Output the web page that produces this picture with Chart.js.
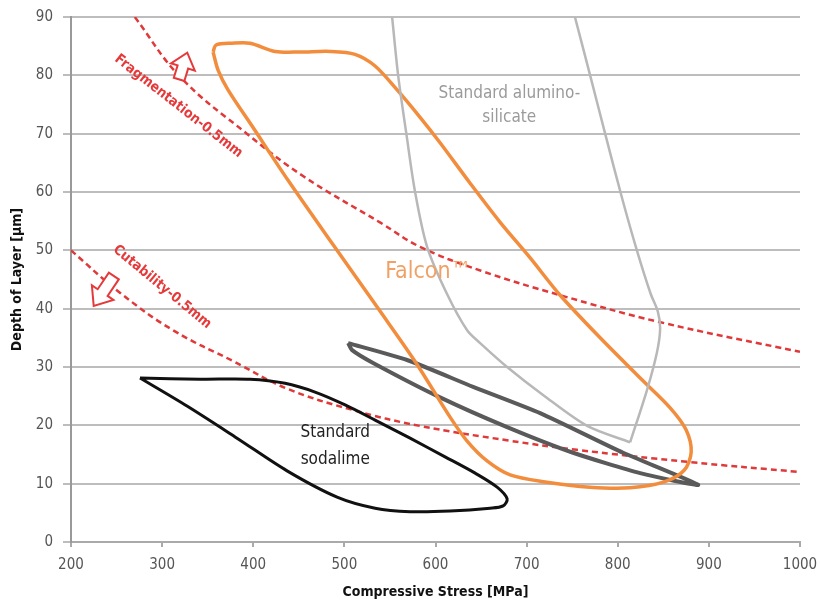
<!DOCTYPE html>
<html>
<head>
<meta charset="utf-8">
<script src="https://cdn.jsdelivr.net/npm/chart.js@4/dist/chart.umd.min.js"></script>
<style>
  html, body { margin: 0; background: #fff; }
  #chart { width: 820px; height: 604px; }
</style>
</head>
<body>
<div id="chart"><canvas id="c"></canvas></div>
<script>
// axis ticks
const xTicks = [200, 300, 400, 500, 600, 700, 800, 900, 1000]
const yTicks = [0, 10, 20, 30, 40, 50, 60, 70, 80, 90]

// limit curves (red dashed)
const fragX = [270, 320, 393, 455, 540, 583, 650, 737, 846, 1000]
const fragY = [90, 79.7, 70, 62.7, 54.7, 50.6, 46.5, 42.3, 37.7, 32.6]
const cutX = [200, 254, 312, 378, 437, 510, 583, 680, 755, 879, 1000]
const cutY = [50, 42.7, 36.3, 31.0, 26.3, 22.6, 19.9, 17.4, 15.8, 13.7, 12]

// Falcon region (closed loop)
const falconX = [355.9, 359.2, 376.7, 396.5, 423.9, 451.4, 484.3, 511.7, 533.7, 557.9, 583.1, 605.2, 638, 671, 703.9, 736.8, 780.7, 824.6, 857.5, 875.1, 880.6, 872.9, 851, 813.6, 769.7, 720.3, 681.9, 656.6, 634.7, 616, 578.7, 538.1, 486.5, 438.2, 398.7, 372.3, 361.4, 355.9]
const falconY = [84.0, 85.2, 85.5, 85.5, 84.1, 84.0, 84.1, 83.6, 81.6, 77.5, 72.8, 68.4, 61.5, 54.8, 48.7, 42.3, 35.0, 28.1, 23.0, 19.2, 15.4, 12.3, 10.3, 9.3, 9.4, 10.3, 11.5, 13.9, 17.3, 21.4, 30.7, 39.8, 51.2, 62.0, 71.3, 77.5, 80.9, 84.0]

// standard alumino-silicate (open at the top)
const aluLeftX = [552.4, 559, 568, 577.6, 590.8, 612.4, 634.7, 649, 678.6, 718, 766.4, 813.6]
const aluLeftY = [90, 80, 70, 60, 50.6, 42.6, 36.3, 34.1, 30, 25.2, 19.9, 17.1]
const aluRightX = [813.6, 832, 843, 846.5, 844, 836, 821, 805, 787, 769.7, 753]
const aluRightY = [17.1, 26, 32.5, 36.5, 39.5, 42.6, 50, 58.8, 69.5, 80, 90]

// dark grey elongated loop
const darkX = [504.1, 568.8, 641.3, 714.8, 805.9, 888.3, 824.6, 751, 678.6, 605, 531.5, 508.5, 504.1]
const darkY = [34.1, 31.2, 26.6, 22.1, 15.3, 9.8, 11.8, 15.3, 19.7, 24.8, 30.7, 32.9, 34.1]

// standard sodalime (closed loop)
const sodaX = [275.7, 341.6, 396.5, 434.9, 467.8, 500.8, 533.7, 572.1, 610.5, 643.5, 667.6, 678.6, 674.2, 659.9, 616, 572.1, 533.7, 492, 437.1, 382.2, 327.3, 275.7]
const sodaY = [28.1, 27.9, 27.9, 27.2, 25.7, 23.5, 20.9, 17.8, 14.6, 11.8, 9.4, 7.4, 6.2, 5.8, 5.3, 5.2, 5.8, 7.7, 12.2, 17.8, 23.3, 28.1]

const pts = (xs, ys) => xs.map((x, i) => ({ x: x, y: ys[i] }))

const FONT = '"DejaVu Sans Condensed", "Liberation Sans", sans-serif'

const notes = [
  { text: 'Standard alumino-', x: 681, y: 76.9, color: '#9b9b9b', font: '17px ' + FONT, rot: 0 },
  { text: 'silicate', x: 681, y: 72.8, color: '#9b9b9b', font: '17px ' + FONT, rot: 0 },
  { text: 'Falcon\u2122', x: 592, y: 46.3, color: '#f0a266', font: '23px ' + FONT, rot: 0 },
  { text: 'Standard', x: 490, y: 18.7, color: '#222', font: '17px ' + FONT, rot: 0 },
  { text: 'sodalime', x: 490, y: 14.1, color: '#222', font: '17px ' + FONT, rot: 0 },
  { text: 'Fragmentation-0.5mm', x: 318, y: 74.7, color: '#e5393a', font: 'bold 14px ' + FONT, rot: 38 },
  { text: 'Cutability-0.5mm', x: 300, y: 43.7, color: '#e5393a', font: 'bold 14px ' + FONT, rot: 39.5 }
]
const arrows = [
  { x: 318.6, y: 79.3, angle: -73, len: 28, head: 15, hw: 12.5, sw: 5.5 },
  { x: 247, y: 45.6, angle: 124, len: 36, head: 16, hw: 13, sw: 6 }
]

const notesPlugin = {
  id: 'notes',
  afterDatasetsDraw(chart) {
    const { ctx, scales } = chart
    ctx.save()
    arrows.forEach(a => {
      const px = scales.x.getPixelForValue(a.x)
      const py = scales.y.getPixelForValue(a.y)
      const b = a.len - a.head
      ctx.save()
      ctx.translate(px, py)
      ctx.rotate(a.angle * Math.PI / 180)
      ctx.beginPath()
      ctx.moveTo(0, -a.sw)
      ctx.lineTo(b, -a.sw)
      ctx.lineTo(b, -a.hw)
      ctx.lineTo(a.len, 0)
      ctx.lineTo(b, a.hw)
      ctx.lineTo(b, a.sw)
      ctx.lineTo(0, a.sw)
      ctx.closePath()
      ctx.fillStyle = '#fff'
      ctx.fill()
      ctx.strokeStyle = '#e5393a'
      ctx.lineWidth = 2
      ctx.lineJoin = 'miter'
      ctx.stroke()
      ctx.restore()
    })
    notes.forEach(n => {
      const px = scales.x.getPixelForValue(n.x)
      const py = scales.y.getPixelForValue(n.y)
      ctx.save()
      ctx.translate(px, py)
      ctx.rotate(n.rot * Math.PI / 180)
      ctx.font = n.font
      ctx.fillStyle = n.color
      ctx.textAlign = 'center'
      ctx.textBaseline = 'middle'
      ctx.fillText(n.text, 0, 0)
      ctx.restore()
    })
    ctx.restore()
  }
}

const line = (data, color, width, extra) => Object.assign({
  data: data,
  showLine: true,
  borderColor: color,
  borderWidth: width,
  pointRadius: 0,
  tension: 0.4,
  fill: false
}, extra || {})

const chart = new Chart(document.getElementById('c'), {
  type: 'scatter',
  data: {
    datasets: [
      line(pts(aluLeftX, aluLeftY), '#b8b8b8', 2.5, { tension: 0.3 }),
      line(pts(aluRightX, aluRightY), '#b8b8b8', 2.5, { tension: 0.3 }),
      line(pts(falconX, falconY), '#f28d3e', 3.5, { tension: 0.3 }),
      line(pts(sodaX, sodaY), '#111', 3, { tension: 0.3 }),
      line(pts(darkX, darkY), '#5a5a5a', 4, { tension: 0.2 }),
      line(pts(fragX, fragY), '#e0393a', 2.5, { borderDash: [6, 4] }),
      line(pts(cutX, cutY), '#e0393a', 2.5, { borderDash: [6, 4] })
    ]
  },
  options: {
    responsive: true,
    maintainAspectRatio: false,
    animation: false,
    layout: { padding: { left: 0, top: 17, right: 20, bottom: 0 } },
    plugins: {
      legend: { display: false },
      tooltip: { enabled: false }
    },
    scales: {
      x: {
        type: 'linear',
        min: 200,
        max: 1000,
        afterBuildTicks: s => { s.ticks = xTicks.map(v => ({ value: v })) },
        afterFit: s => { s.height = 62; s.paddingLeft = 0; s.paddingRight = 0 },
        grid: { display: true, drawOnChartArea: false, drawTicks: true, tickLength: 5, color: '#aaa', lineWidth: 2 },
        border: { display: true, color: '#aaa', width: 2 },
        ticks: { color: '#555', font: { family: FONT, size: 15 }, padding: 9, maxRotation: 0, callback: v => String(v) },
        title: { display: true, text: 'Compressive Stress [MPa]', color: '#111', font: { family: FONT, size: 14, weight: 'bold' }, padding: { top: 4, bottom: 3 } }
      },
      y: {
        type: 'linear',
        min: 0,
        max: 90,
        afterBuildTicks: s => { s.ticks = yTicks.map(v => ({ value: v })) },
        afterFit: s => { s.width = 71; s.paddingTop = 0; s.paddingBottom = 0 },
        grid: { color: '#bdbdbd', lineWidth: 2, drawTicks: true, tickLength: 8 },
        border: { display: true, color: '#999', width: 2 },
        ticks: { color: '#555', font: { family: FONT, size: 15 }, padding: 10, callback: v => String(v) },
        title: { display: true, text: 'Depth of Layer [\u00b5m]', color: '#111', font: { family: FONT, size: 14, weight: 'bold' }, padding: { top: 9, bottom: 4 } }
      }
    }
  },
  plugins: [notesPlugin]
})
</script>
</body>
</html>
